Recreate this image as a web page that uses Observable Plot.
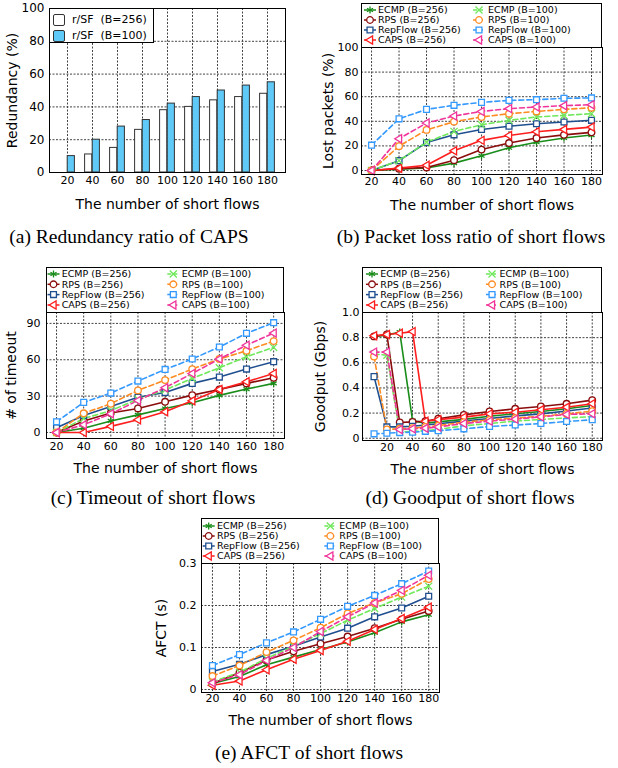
<!DOCTYPE html>
<html><head><meta charset="utf-8">
<script src="https://cdn.jsdelivr.net/npm/d3@7"></script>
<script src="https://cdn.jsdelivr.net/npm/@observablehq/plot@0.6"></script>
<style>
body{margin:0;background:#fff}
#fig{position:relative;width:618px;height:768px;font-family:"DejaVu Sans",sans-serif;overflow:hidden;background:#fff}
.panel{position:absolute}
.cap{position:absolute;font-family:"Liberation Serif","Times New Roman",serif;font-size:19.5px;white-space:pre;transform:translate(-50%,-50%);color:#000}
</style></head><body><div id="fig"></div>
<script>
// ---------- data ----------
const flows = [20, 40, 60, 80, 100, 120, 140, 160, 180];
const goodputFlows = [10, 20, 30, 40, 50, 60, 80, 100, 120, 140, 160, 180];
const barLabels = ["r/SF  (B=256)", "r/SF  (B=100)"];
const redundancy256 = [0, 11, 15, 26, 38, 40, 44, 46, 48];
const redundancy100 = [10, 20, 28, 32, 42, 46, 50, 53, 55];
const seriesLabels = ["ECMP (B=256)", "RPS (B=256)", "RepFlow (B=256)", "CAPS (B=256)",
                      "ECMP (B=100)", "RPS (B=100)", "RepFlow (B=100)", "CAPS (B=100)"];
const seriesColors = ["#1a8c1a", "#8b0c0c", "#1f4f8f", "#ff1e1e",
                      "#6fe85a", "#ff8c22", "#3399ff", "#f0359a"];
const lostPackets = [
  [0, 1, 2, 6, 12, 18.5, 23, 26.4, 28.8],
  [0, 1.5, 2.5, 8.4, 17, 22.3, 26.4, 29, 31],
  [0, 8, 22.8, 29, 33.4, 36, 38, 39.4, 40.8],
  [0, 1.9, 4.3, 16, 24.5, 28.5, 31.5, 33.4, 35.3],
  [0, 8, 23, 31.8, 37.2, 40.8, 43.5, 44.8, 46.2],
  [0, 19.8, 33, 39.7, 43.5, 46.2, 48, 49.7, 51],
  [20.6, 42, 49.7, 53, 55.4, 57, 57.6, 58.7, 59],
  [0, 25.8, 38.6, 44.3, 48, 50.3, 51.6, 52.7, 53.5]
];
const timeouts = [
  [0, 3.5, 9.5, 14.5, 19.8, 24.5, 30.6, 35.8, 40.5],
  [0, 9.4, 16, 19.8, 25.3, 30.8, 35.5, 40.5, 45.1],
  [3.9, 14, 21.5, 29, 33, 40.5, 45.7, 52.3, 58.4],
  [0, 0, 5, 10.5, 17, 26.1, 35.5, 41.8, 48.7],
  [0, 11.5, 18, 27.5, 35, 44.6, 53.4, 62.5, 70.2],
  [0, 15.8, 23.7, 34.7, 43.2, 52.3, 60.6, 67.4, 75.4],
  [8.8, 24.8, 32.5, 42.4, 52, 60.6, 70.5, 81.8, 90.6],
  [0, 6.3, 15.4, 26.4, 36.9, 48.7, 60.6, 72, 82]
];
const goodput = [
  [0.81, 0.82, 0.845, 0.14, 0.12, 0.13, 0.15, 0.175, 0.195, 0.213, 0.234, 0.26],
  [0.81, 0.825, 0.125, 0.13, 0.135, 0.155, 0.186, 0.213, 0.234, 0.253, 0.274, 0.303],
  [0.49, 0.09, 0.09, 0.095, 0.105, 0.115, 0.136, 0.157, 0.178, 0.194, 0.216, 0.24],
  [0.815, 0.825, 0.835, 0.848, 0.135, 0.148, 0.168, 0.194, 0.207, 0.226, 0.247, 0.274],
  [0.67, 0.66, 0.05, 0.055, 0.06, 0.07, 0.099, 0.117, 0.136, 0.149, 0.162, 0.172],
  [0.65, 0.07, 0.075, 0.08, 0.09, 0.1, 0.128, 0.146, 0.16, 0.175, 0.194, 0.215],
  [0.035, 0.04, 0.045, 0.048, 0.055, 0.06, 0.075, 0.093, 0.105, 0.117, 0.133, 0.147],
  [0.685, 0.685, 0.07, 0.075, 0.08, 0.09, 0.117, 0.136, 0.152, 0.17, 0.189, 0.195]
];
const afct = [
  [0.014, 0.031, 0.059, 0.077, 0.095, 0.113, 0.135, 0.161, 0.178],
  [0.014, 0.04, 0.07, 0.091, 0.109, 0.126, 0.146, 0.167, 0.187],
  [0.043, 0.06, 0.083, 0.103, 0.125, 0.146, 0.173, 0.194, 0.222],
  [0.01, 0.02, 0.047, 0.072, 0.093, 0.115, 0.143, 0.169, 0.196],
  [0.018, 0.041, 0.074, 0.103, 0.133, 0.165, 0.193, 0.22, 0.246],
  [0.032, 0.057, 0.089, 0.117, 0.147, 0.181, 0.206, 0.228, 0.263],
  [0.057, 0.083, 0.111, 0.137, 0.167, 0.198, 0.224, 0.252, 0.282],
  [0.016, 0.035, 0.069, 0.1, 0.138, 0.173, 0.206, 0.236, 0.272]
];
const xTitle = "The number of short flows";
const captions = ["(a) Redundancy ratio of CAPS", "(b) Packet loss ratio of short flows",
                  "(c) Timeout of short flows", "(d) Goodput of short flows", "(e) AFCT of short flows"];

// ---------- helpers ----------
const triLeft = {draw(ctx, size) {
  const r = Math.sqrt(size / Math.PI) * 1.3;
  ctx.moveTo(-r, 0); ctx.lineTo(r * 0.6, -r * 0.95); ctx.lineTo(r * 0.6, r * 0.95); ctx.closePath();
}};
const plotSymbols = ["asterisk", "circle", "square", triLeft, "times", "circle", "square", triLeft];
const d3Symbols = [d3.symbolAsterisk, d3.symbolCircle, d3.symbolSquare, triLeft, d3.symbolTimes, d3.symbolCircle, d3.symbolSquare, triLeft];
const isStrokeSym = i => i === 0 || i === 4;
const DOT_R = 3.3;
const fig = document.getElementById("fig");
const gridStyle = {stroke: "#444", strokeOpacity: 1, strokeDasharray: "2,1.5", strokeWidth: 1};
const numFmt = d => d === 0 ? "0" : d3.format(".1f")(d);

function place(node, left, top) {
  const div = document.createElement("div");
  div.className = "panel";
  div.style.left = left + "px"; div.style.top = top + "px";
  div.appendChild(node);
  fig.appendChild(div);
}

function linePlot(cfg) {
  const data = [];
  cfg.values.forEach((row, i) => row.forEach((v, j) => data.push({i, x: cfg.xs[j], y: v})));
  const marks = [
    Plot.ruleX(flows, {x: d => d, ...gridStyle}),
    Plot.ruleY(cfg.yTicks, {y: d => d, ...gridStyle})
  ];
  seriesLabels.forEach((name, i) => {
    const d = data.filter(p => p.i === i);
    marks.push(Plot.line(d, {x: "x", y: "y", stroke: seriesColors[i], strokeWidth: 1.6,
      strokeDasharray: i >= 4 ? "5,3" : null}));
  });
  seriesLabels.forEach((name, i) => {
    const d = data.filter(p => p.i === i);
    marks.push(Plot.dot(d, {x: "x", y: "y", symbol: plotSymbols[i], r: DOT_R, stroke: seriesColors[i],
      strokeWidth: 1.3, fill: isStrokeSym(i) ? "none" : "white"}));
  });
  marks.push(Plot.frame({stroke: "#000", strokeWidth: 1}));
  marks.push(Plot.axisX({ticks: flows, tickSize: 0, tickPadding: cfg.xPad, fontSize: 11, label: null}));
  marks.push(Plot.axisX({ticks: [], tickSize: 0, label: xTitle, labelAnchor: "center", labelArrow: "none",
    labelOffset: cfg.xLabelOffset, fontSize: 14}));
  marks.push(Plot.axisY({ticks: cfg.yTicks, tickFormat: cfg.fmt, tickSize: 0, tickPadding: cfg.yPad, fontSize: 11, label: null}));
  marks.push(Plot.axisY({ticks: [], tickSize: 0, label: cfg.yLabel, labelAnchor: "center", labelArrow: "none",
    labelOffset: cfg.yLabelOffset, fontSize: 14}));
  return Plot.plot({
    width: cfg.width, height: cfg.height,
    marginLeft: cfg.m[0], marginRight: cfg.m[1], marginTop: cfg.m[2], marginBottom: cfg.m[3],
    x: {type: "linear", domain: cfg.xDomain},
    y: {type: "linear", domain: cfg.yDomain},
    style: {fontFamily: "DejaVu Sans", fontSize: "11px", color: "#000", background: "transparent", overflow: "visible"},
    marks
  });
}

function lineLegend(L) {
  const svg = d3.create("svg").attr("width", L.width).attr("height", L.height)
    .style("font-family", "DejaVu Sans").style("overflow", "visible");
  svg.append("rect").attr("x", 0.5).attr("y", 0.5).attr("width", L.width - 1).attr("height", L.height - 1)
    .attr("fill", "#fff").attr("stroke", "#000");
  seriesLabels.forEach((name, i) => {
    const col = i < 4 ? 0 : 1, row = i % 4;
    const mx = col ? L.col2 : L.col1, tx = col ? L.text2 : L.text1, y = L.rows[row];
    svg.append("line").attr("x1", mx - 6).attr("x2", mx + 6).attr("y1", y).attr("y2", y)
      .attr("stroke", seriesColors[i]).attr("stroke-width", 1.5)
      .attr("stroke-dasharray", i >= 4 ? "4,2" : null);
    svg.append("path").attr("d", d3.symbol(d3Symbols[i], DOT_R * DOT_R * Math.PI)())
      .attr("transform", `translate(${mx},${y})`)
      .attr("fill", isStrokeSym(i) ? "none" : "white").attr("stroke", seriesColors[i]).attr("stroke-width", 1.3);
    svg.append("text").attr("x", tx).attr("y", y).attr("dy", "0.35em").attr("font-size", 9.5)
      .attr("fill", "#000").text(name);
  });
  place(svg.node(), L.left, L.top);
}

function caption(text, cx, cy) {
  const d = document.createElement("div");
  d.className = "cap"; d.textContent = text;
  d.style.left = cx + "px"; d.style.top = cy + "px";
  fig.appendChild(d);
}

// ---------- (a) redundancy bars ----------
const barData = flows.map((f, j) => ({f, v256: redundancy256[j], v100: redundancy100[j]}));
const plotA = Plot.plot({
  width: 300, height: 215, marginLeft: 49, marginRight: 15, marginTop: 8, marginBottom: 43,
  x: {type: "band", domain: flows, paddingInner: 0.2, paddingOuter: 0.25},
  y: {domain: [0, 100]},
  style: {fontFamily: "DejaVu Sans", fontSize: "11px", color: "#000", background: "transparent", overflow: "visible"},
  marks: [
    Plot.ruleX(flows, {x: d => d, ...gridStyle}),
    Plot.ruleY([20, 40, 60, 80], {y: d => d, ...gridStyle}),
    Plot.barY(barData, {x: "f", y: "v256", fill: "white", stroke: "#333", strokeWidth: 1, insetLeft: 2.6, insetRight: 10.2}),
    Plot.barY(barData, {x: "f", y: "v100", fill: "#5fc9f8", stroke: "#333", strokeWidth: 1, insetLeft: 10.2, insetRight: 2.6}),
    Plot.frame({stroke: "#000"}),
    Plot.axisX({ticks: flows, tickSize: 0, tickPadding: 4, fontSize: 11, label: null}),
    Plot.axisX({ticks: [], tickSize: 0, label: xTitle, labelAnchor: "center", labelArrow: "none", labelOffset: 36, fontSize: 14}),
    Plot.axisY({ticks: [0, 20, 40, 60, 80, 100], tickSize: 0, tickPadding: 5, fontSize: 12, label: null}),
    Plot.axisY({ticks: [], tickSize: 0, label: "Redundancy (%)", labelAnchor: "center", labelArrow: "none", labelOffset: 42, fontSize: 14})
  ]
});
place(plotA, 0, 0);
{
  const box = document.createElement("div");
  Object.assign(box.style, {position: "absolute", left: "49px", top: "8px", width: "105px", height: "35px",
    border: "1px solid #000", background: "#fff", boxSizing: "border-box"});
  const fills = ["#fff", "#5fc9f8"];
  barLabels.forEach((t, k) => {
    const sw = document.createElement("div");
    Object.assign(sw.style, {position: "absolute", left: "3px", top: (k ? 20.5 : 5) + "px", width: "12px", height: "12px",
      border: "1px solid #333", borderRadius: "2px", background: fills[k], boxSizing: "border-box"});
    const tx = document.createElement("div");
    Object.assign(tx.style, {position: "absolute", left: "22px", top: (k ? 19.5 : 4) + "px", fontSize: "11px",
      lineHeight: "14px", whiteSpace: "pre", fontFamily: "DejaVu Sans"});
    tx.textContent = t;
    box.appendChild(sw); box.appendChild(tx);
  });
  fig.appendChild(box);
}

// ---------- (b) lost packets ----------
place(linePlot({values: lostPackets, xs: flows, width: 300, height: 172, m: [51, 8, 10, 35],
  xDomain: [12.7, 188], yDomain: [-3.25, 100], yTicks: [0, 20, 40, 60, 80, 100], fmt: d3.format("d"),
  yLabel: "Lost packets (%)", xPad: 3, yPad: 3, xLabelOffset: 35, yLabelOffset: 38}), 310, 37);
lineLegend({left: 361, top: 3, width: 241, height: 45, col1: 9, text1: 17, col2: 118, text2: 127, rows: [7, 17, 27, 37]});

// ---------- (c) timeouts ----------
place(linePlot({values: timeouts, xs: flows, width: 300, height: 175, m: [46, 16, 10, 39],
  xDomain: [12.6, 188], yDomain: [-5, 99], yTicks: [0, 30, 60, 90], fmt: d3.format("d"),
  yLabel: "# of timeout", xPad: 4, yPad: 6, xLabelOffset: 34, yLabelOffset: 40}), 0, 302);
lineLegend({left: 46, top: 267, width: 238, height: 46, col1: 7.5, text1: 15.7, col2: 127.3, text2: 135.7, rows: [7, 17.3, 27.6, 38]});

// ---------- (d) goodput ----------
place(linePlot({values: goodput, xs: goodputFlows, width: 300, height: 175, m: [52, 8, 10, 37],
  xDomain: [1, 188], yDomain: [-0.018, 1.0], yTicks: [0, 0.2, 0.4, 0.6, 0.8, 1.0], fmt: numFmt,
  yLabel: "Goodput (Gbps)", xPad: 3, yPad: 3, xLabelOffset: 33, yLabelOffset: 47}), 310, 302);
lineLegend({left: 362, top: 267, width: 240, height: 46, col1: 10, text1: 18.3, col2: 130, text2: 137.6, rows: [7, 17.3, 27.6, 38]});

// ---------- (e) AFCT ----------
place(linePlot({values: afct, xs: flows, width: 300, height: 175, m: [51, 11, 10, 36],
  xDomain: [11.9, 188], yDomain: [-0.0072, 0.3], yTicks: [0, 0.1, 0.2, 0.3], fmt: numFmt,
  yLabel: "AFCT (s)", xPad: 2, yPad: 5, xLabelOffset: 32, yLabelOffset: 45}), 150, 553);
lineLegend({left: 201, top: 518, width: 238, height: 46, col1: 7.7, text1: 16, col2: 129.3, text2: 138.3, rows: [8, 18, 28, 38]});

// ---------- captions ----------
caption(captions[0], 129, 237);
caption(captions[1], 471, 237);
caption(captions[2], 153, 498);
caption(captions[3], 470, 498);
caption(captions[4], 309, 753);
</script></body></html>
